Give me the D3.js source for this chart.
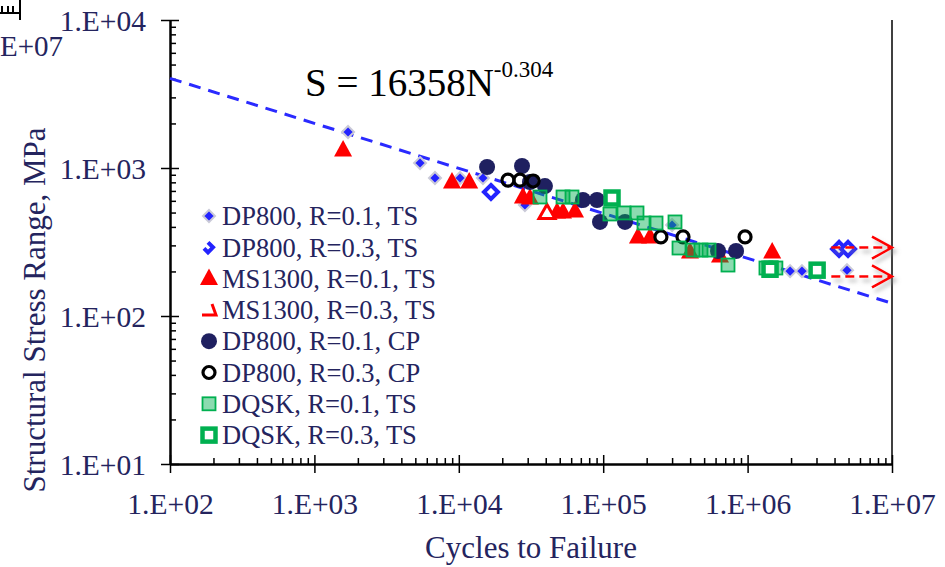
<!DOCTYPE html>
<html>
<head>
<meta charset="utf-8">
<script src="https://cdn.jsdelivr.net/npm/d3@7"></script>
<style>
  html, body { margin: 0; padding: 0; background: #fff; }
  svg text { font-family: "Liberation Serif", "DejaVu Serif", serif !important; }
</style>
</head>
<body>
<svg id="chart" width="945" height="567" font-family="Liberation Serif, serif"></svg>
<script>
// [cycles, stress range MPa]
const dp800R01TS = [[1710, 1750], [5390, 1080], [6840, 856], [10200, 856], [14700, 856], [28700, 562],
  [300000, 412], [1.97e6, 201], [2.38e6, 201], [4.88e6, 204]];
const dp800R03TS = [[16700, 688], [4.30e6, 284], [4.96e6, 284]];
const ms1300R01TS = [[1580, 1324], [8970, 804], [11800, 804], [27800, 637], [31100, 627], [47900, 504],
  [52700, 504], [63800, 512], [174000, 342], [211000, 342], [399000, 271], [644000, 254], [1.48e6, 271]];
const ms1300R03TS = [[40800, 497]];
const dp800R01CP = [[15700, 1016], [27400, 1032], [31100, 804], [39500, 755], [72400, 608], [90600, 608],
  [95000, 432], [141600, 432], [624000, 275], [832000, 275]];
const dp800R03CP = [[21900, 829], [26500, 829], [32700, 817], [251000, 342], [357000, 342], [960000, 342]];
const dqskR01TS = [[36500, 637], [52700, 637], [60800, 637], [111400, 489], [139300, 497], [171400, 497],
  [191700, 425], [232200, 425], [314200, 432], [335000, 288], [418700, 279], [475500, 279], [540500, 279],
  [731500, 221], [1.34e6, 211], [1.45e6, 211], [1.57e6, 211]];
const dqskR03TS = [[115100, 627], [1.43e6, 207], [3.03e6, 204]];

const seriesNames = ['DP800, R=0.1, TS', 'DP800, R=0.3, TS', 'MS1300, R=0.1, TS', 'MS1300, R=0.3, TS',
  'DP800, R=0.1, CP', 'DP800, R=0.3, CP', 'DQSK, R=0.1, TS', 'DQSK, R=0.3, TS'];
const seriesData = [dp800R01TS, dp800R03TS, ms1300R01TS, ms1300R03TS, dp800R01CP, dp800R03CP, dqskR01TS, dqskR03TS];
const seriesMarks = ['diamond', 'diamondOpen', 'triangle', 'triangleOpen', 'circle', 'circleOpen', 'square', 'squareOpen'];

// run-outs: [start cycles, end cycles, stress]
const runouts = [[3.8e6, 1e7, 290], [3.8e6, 1e7, 185]];

// fitted curve S = A * N^b
const fitA = 16358;
const fitB = -0.304;

const xMajor = [1e2, 1e3, 1e4, 1e5, 1e6, 1e7];
const yMajor = [1e1, 1e2, 1e3, 1e4];
const fmtE = d => '1.E+' + String(Math.round(Math.log10(d))).padStart(2, '0');

const serif = '"Liberation Serif", "DejaVu Serif", serif';
const navy = '#24245e';
const svg = d3.select('#chart');

const x = d3.scaleLog().domain([1e2, 1e7]).range([170, 892]);
const y = d3.scaleLog().domain([1e1, 1e4]).range([464, 20]);

// cut-off corner of a neighbouring chart
const corner = svg.append('g').attr('stroke', '#000').attr('stroke-width', 2);
corner.append('line').attr('x1', 0).attr('x2', 20).attr('y1', 13).attr('y2', 13);
corner.append('line').attr('x1', 20).attr('x2', 20).attr('y1', 0).attr('y2', 20);
[2, 8, 13].forEach(px => corner.append('line').attr('x1', px).attr('x2', px).attr('y1', 6).attr('y2', 13));
svg.append('text').attr('x', 63).attr('y', 56).attr('text-anchor', 'end')
  .attr('font-size', 29).attr('fill', navy).text('1.E+07');

// right frame line
svg.append('line').attr('x1', 892).attr('x2', 892).attr('y1', 20).attr('y2', 464)
  .attr('stroke', '#000').attr('stroke-width', 1.5);

// axes: outer major ticks with labels, inner ticks for every step
const xAxisOut = svg.append('g').attr('transform', 'translate(0,464)')
  .call(d3.axisBottom(x).tickValues(xMajor).tickFormat(fmtE).tickSize(9).tickSizeOuter(0).tickPadding(20));
const xAxisIn = svg.append('g').attr('transform', 'translate(0,464)')
  .call(d3.axisBottom(x).tickValues(x.ticks()).tickFormat('').tickSize(-6).tickSizeOuter(0));
xAxisIn.selectAll('.tick line').filter(d => xMajor.includes(d)).attr('y2', -9);

const yAxisOut = svg.append('g').attr('transform', 'translate(170,0)')
  .call(d3.axisLeft(y).tickValues(yMajor).tickFormat(fmtE).tickSize(9).tickSizeOuter(0).tickPadding(15));
const yAxisIn = svg.append('g').attr('transform', 'translate(170,0)')
  .call(d3.axisLeft(y).tickValues(y.ticks()).tickFormat('').tickSize(-6).tickSizeOuter(0));
yAxisIn.selectAll('.tick line').filter(d => yMajor.includes(d)).attr('x2', 9);

[xAxisOut, xAxisIn, yAxisOut, yAxisIn].forEach(g => {
  g.attr('font-family', serif);
  g.selectAll('.domain').attr('stroke', '#000').attr('stroke-width', 2);
  g.selectAll('.tick line').attr('stroke', '#000').attr('stroke-width', 1.5);
  g.selectAll('text').attr('font-size', 29.5).attr('fill', navy);
});
xAxisOut.selectAll('text').attr('dy', '0.71em');
yAxisOut.selectAll('text').attr('dy', '0.34em');

// axis titles
svg.append('text').attr('x', 531).attr('y', 558).attr('text-anchor', 'middle')
  .attr('font-size', 31).attr('fill', navy).text('Cycles to Failure');
svg.append('text').attr('transform', 'translate(45,310) rotate(-90)').attr('text-anchor', 'middle')
  .attr('font-size', 31).attr('fill', navy).text('Structural Stress Range, MPa');

// fitted line
const fitLine = d3.line().x(d => x(d)).y(d => y(fitA * Math.pow(d, fitB)));
svg.append('path').datum(x.domain())
  .attr('d', fitLine).attr('fill', 'none')
  .attr('stroke', '#2a2aff').attr('stroke-width', 3).attr('stroke-dasharray', '12,8');

// markers
function drawMark(g, type, legend) {
  if (type === 'diamond') {
    g.append('path').attr('d', 'M0,-6L6,0L0,6L-6,0Z')
      .attr('fill', '#2323ff').attr('stroke', '#cacad8').attr('stroke-width', 2);
  } else if (type === 'diamondOpen') {
    g.append('path').attr('d', legend ? 'M-1,-5L4,0L-1,5L-5,1' : 'M0,-7L7,0L0,7L-7,0Z')
      .attr('fill', legend ? 'none' : '#fff').attr('stroke', '#2323ff').attr('stroke-width', 4);
  } else if (type === 'triangle') {
    g.append('path').attr('d', 'M0,-10L9,6.5L-9,6.5Z').attr('fill', '#ff0000');
  } else if (type === 'triangleOpen') {
    g.append('path').attr('d', legend ? 'M3,-6L7,5L-7,5' : 'M0,-8.5L8,5.5L-8,5.5Z')
      .attr('fill', legend ? 'none' : '#fff').attr('stroke', '#ff0000').attr('stroke-width', 3);
  } else if (type === 'circle') {
    g.append('circle').attr('r', 8).attr('fill', '#1f2060');
  } else if (type === 'circleOpen') {
    g.append('circle').attr('r', 6).attr('fill', 'none').attr('stroke', '#000').attr('stroke-width', 3.2);
  } else if (type === 'square') {
    g.append('rect').attr('x', -6.5).attr('y', -6.5).attr('width', 13).attr('height', 13)
      .attr('fill', '#00b050').attr('fill-opacity', 0.45).attr('stroke', '#00b050').attr('stroke-width', 1.8);
  } else if (type === 'squareOpen') {
    g.append('rect').attr('x', -6.5).attr('y', -6.5).attr('width', 13).attr('height', 13)
      .attr('fill', '#fff').attr('stroke', '#00b050').attr('stroke-width', 4.5);
  }
}

seriesData.forEach((data, i) => {
  svg.append('g').attr('class', 'series')
    .selectAll('g')
    .data(data)
    .join('g')
    .attr('transform', d => `translate(${x(d[0])},${y(d[1])})`)
    .each(function () { drawMark(d3.select(this), seriesMarks[i], false); });
});

// run-out arrows
const defs = svg.append('defs');
defs.append('filter').attr('id', 'shadow').attr('x', '-20%').attr('y', '-60%').attr('width', '140%').attr('height', '220%')
  .append('feDropShadow').attr('dx', 3).attr('dy', 4).attr('stdDeviation', 2)
  .attr('flood-color', '#888').attr('flood-opacity', 0.6);

const arrows = svg.append('g').attr('filter', 'url(#shadow)')
  .selectAll('g').data(runouts).join('g');
arrows.append('line')
  .attr('x1', d => x(d[0])).attr('x2', d => x(d[1]) - 2)
  .attr('y1', d => y(d[2])).attr('y2', d => y(d[2]))
  .attr('stroke', '#ff0000').attr('stroke-width', 2.5).attr('stroke-dasharray', '9,5');
arrows.append('path')
  .attr('d', d => `M${x(d[1]) - 20},${y(d[2]) - 11}L${x(d[1])},${y(d[2])}L${x(d[1]) - 20},${y(d[2]) + 11}`)
  .attr('fill', 'none').attr('stroke', '#ff0000').attr('stroke-width', 2.5);

// equation
const eq = svg.append('text').attr('x', 305).attr('y', 96).attr('font-size', 39).attr('fill', '#000');
eq.append('tspan').text(`S = ${fitA}N`);
eq.append('tspan').attr('dy', -19).attr('font-size', 23).text(String(fitB));

// legend
const legend = svg.append('g')
  .selectAll('g')
  .data(seriesNames)
  .join('g')
  .attr('transform', (d, i) => `translate(209,${216 + i * 31.3})`);
legend.each(function (d, i) { drawMark(d3.select(this), seriesMarks[i], true); });
legend.append('text').attr('x', 13).attr('dy', '0.35em')
  .attr('font-size', 26.5).attr('fill', navy).text(d => d);
</script>
</body>
</html>
